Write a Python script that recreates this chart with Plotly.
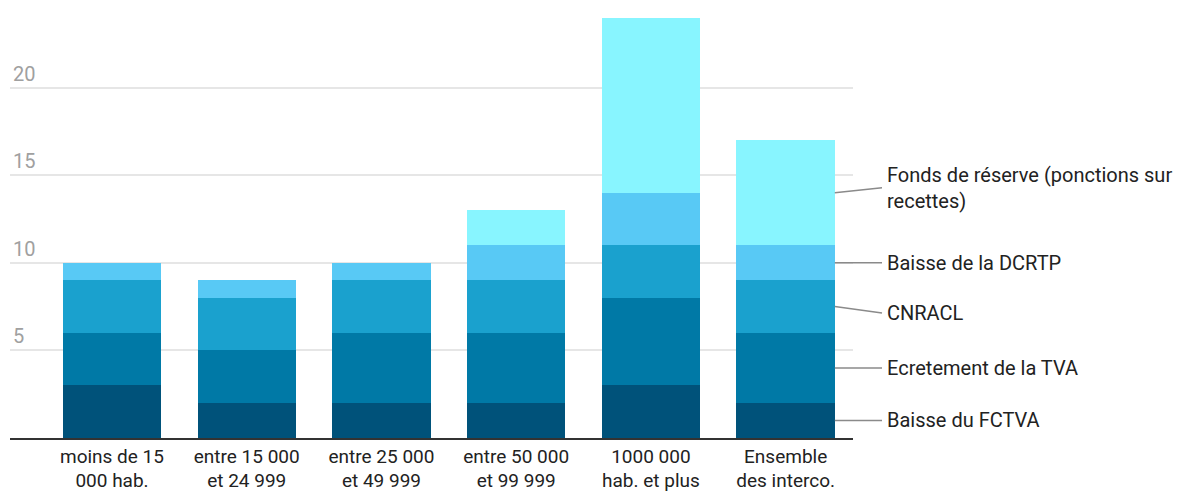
import plotly.graph_objects as go

categories = ["moins de 15<br>000 hab.", "entre 15 000<br>et 24 999", "entre 25 000<br>et 49 999",
              "entre 50 000<br>et 99 999", "1000 000<br>hab. et plus", "Ensemble<br>des interco."]
series_names = ["Baisse du FCTVA", "Ecretement de la TVA", "CNRACL", "Baisse de la DCRTP",
                "Fonds de réserve (ponctions sur<br>recettes)"]
fctva = [3, 2, 2, 2, 3, 2]
tva = [3, 3, 4, 4, 5, 4]
cnracl = [3, 3, 3, 3, 3, 3]
dcrtp = [1, 1, 1, 2, 3, 2]
fonds = [0, 0, 0, 2, 10, 6]
colors = ["#00527a", "#0079a6", "#1aa1ce", "#58c9f5", "#88f5ff"]
y_ticks = [5, 10, 15, 20]

series = [fctva, tva, cnracl, dcrtp, fonds]
W, H = 1183, 493
ml, mr, mt, mb = 10, 330, 0, 55
bargap = 0.27

fig = go.Figure()
for name, vals, col in zip(series_names, series, colors):
    fig.add_trace(go.Bar(x=list(range(len(categories))), y=vals, name=name,
                         marker=dict(color=col, line=dict(width=0)), showlegend=False))

# leader lines + labels for the last bar
last = len(categories) - 1
xr = [-0.757, 5.5]
plot_w = W - ml - mr
def xpix_to_paper(px):
    return (px - ml) / plot_w
def xdata_to_paper(xd):
    return (xd - xr[0]) / (xr[1] - xr[0])
bar_right = xdata_to_paper(last + (1 - bargap) / 2)
label_x = xpix_to_paper(882)
text_x = xpix_to_paper(885)
base = 0
label_offsets = [0, 0, -0.36, 0, 0.29]
for i, (name, vals) in enumerate(zip(series_names, series)):
    v = vals[last]
    mid = base + v / 2
    base += v
    ly = mid + label_offsets[i]
    fig.add_shape(type="line", xref="paper", yref="y", x0=bar_right, x1=label_x, y0=mid, y1=ly,
                  line=dict(color="#8a8a8a", width=1.5))
    fig.add_annotation(xref="paper", yref="y", x=text_x, y=ly, text=name, showarrow=False,
                       xanchor="left", yanchor="middle", align="left",
                       font=dict(family="Roboto", size=20, color="#222222"))

fig.update_layout(
    barmode="stack", bargap=bargap,
    width=W, height=H,
    margin=dict(l=ml, r=mr, t=mt, b=mb),
    plot_bgcolor="white", paper_bgcolor="white",
    font=dict(family="Roboto", size=20, color="#222222"),
    xaxis=dict(tickmode="array", tickvals=list(range(len(categories))), ticktext=categories,
               range=xr, showgrid=False, showline=True, linecolor="#333333", linewidth=1.5,
               ticks="", tickfont=dict(size=19, color="#222222"), zeroline=False,
               ticklabelstandoff=0, automargin=False),
    yaxis=dict(range=[0, 25], tickvals=y_ticks, ticktext=[str(v) for v in y_ticks],
               ticklabelposition="inside top", showgrid=True, gridcolor="#e6e6e6", gridwidth=1.5,
               tickfont=dict(size=20, color="#a0a0a0"), zeroline=False, showline=False, ticks="",
               automargin=False),
)
fig.write_html("out.html")
